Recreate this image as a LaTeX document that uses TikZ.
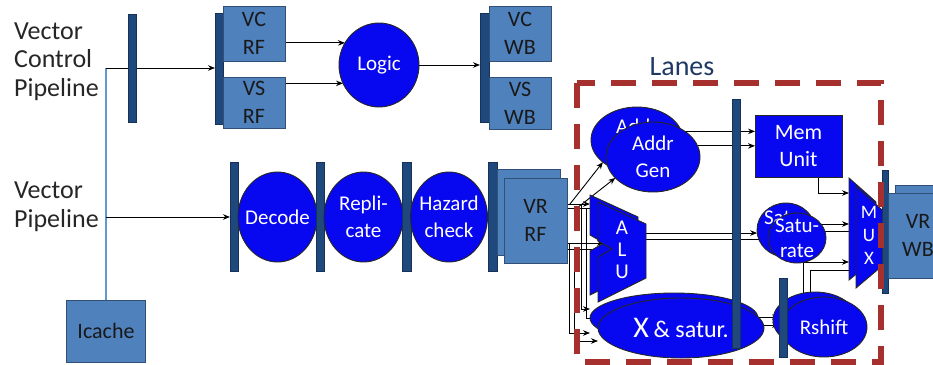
\documentclass[tikz,border=0pt]{standalone}
\usepackage{fontspec}
\setmainfont{Carlito}
\usetikzlibrary{shapes.geometric,arrows.meta}
\pgfdeclarelayer{bg}
\pgfsetlayers{bg,main}
\definecolor{barc}{RGB}{31,73,125}
\definecolor{barb}{RGB}{22,50,88}
\definecolor{lboxc}{RGB}{79,129,189}
\definecolor{lboxb}{RGB}{50,80,118}
\definecolor{bblue}{RGB}{8,8,240}
\definecolor{lanered}{RGB}{165,48,45}
\definecolor{lanetxt}{RGB}{31,56,100}
\definecolor{icline}{RGB}{100,150,210}
\begin{document}
\begin{tikzpicture}[x=1pt,y=-1pt,
 pbar/.style={draw=barb,fill=barc,line width=0.6pt,minimum width=8pt,inner sep=0pt,outer sep=0pt},
 lbox/.style={draw=lboxb,fill=lboxc,line width=1pt,inner sep=0pt,outer sep=0pt,align=center,text=black!90,font=\fontsize{22}{28}\selectfont},
 bell/.style={ellipse,draw=black!85,fill=bblue,line width=0.9pt,inner sep=-8pt,outer sep=0pt,align=center,text=white,font=\fontsize{21}{27}\selectfont},
 bpoly/.style={draw=black!85,fill=bblue,line width=0.9pt},
 arr/.style={draw=black,line width=0.9pt,-{Stealth[length=7pt,width=5.5pt]}},
 lbl/.style={align=left,text=black!85,font=\fontsize{26}{28.5}\selectfont,inner sep=0pt,anchor=west}
]
\useasboundingbox (0,0) rectangle (933,364);

% labels
\node[lbl] (vcp) at (14,61.5) {Vector\\Control\\Pipeline};
\node[lbl] (vp) at (14,207) {Vector\\Pipeline};

% control pipeline
\node[pbar,minimum height=108pt] (b1) at (132,68) {};
\node[pbar,minimum height=111pt] (vcrfbar) at (219,68.5) {};
\node[lbox,minimum width=62pt,minimum height=55pt] (vcrf) at (254,33.5) {VC\\RF};
\node[lbox,minimum width=62pt,minimum height=51pt] (vsrf) at (254,102.5) {VS\\RF};
\node[bell,minimum width=80pt,minimum height=84pt] (logic) at (379,65) {Logic};
\node[pbar,minimum width=9pt,minimum height=109pt] (vcwbbar) at (484.5,67.5) {};
\node[lbox,minimum width=62pt,minimum height=55pt] (vcwb) at (520,33.5) {VC\\WB};
\node[lbox,minimum width=62pt,minimum height=52pt] (vswb) at (520,103) {VS\\WB};

% icache
\node[lbox,minimum width=79pt,minimum height=62pt] (icache) at (106,331) {Icache};

% vector pipeline
\node[pbar,minimum height=109pt] (decbar) at (234,216.5) {};
\node[bell,minimum width=79pt,minimum height=90pt] (decode) at (277.5,217) {Decode};
\node[pbar,minimum height=109pt] (repbar) at (320,216.5) {};
\node[bell,minimum width=79pt,minimum height=90pt] (repl) at (363.5,217) {Repli-\\cate};
\node[pbar,minimum width=9pt,minimum height=109pt] (hazbar) at (406.5,216.5) {};
\node[bell,minimum width=77pt,minimum height=90pt] (haz) at (449,217) {Hazard\\check};
\node[pbar,minimum width=9pt,minimum height=109pt] (vrrfbar) at (492.5,216.5) {};
\node[lbox,minimum width=63pt,minimum height=86pt] (vrrfb) at (528.5,212) {};
\node[lbox,minimum width=63pt,minimum height=85pt] (vrrff) at (535.5,220.5) {VR\\RF};

% lanes
\node[text=lanetxt,font=\fontsize{28}{30}\selectfont] (lanes) at (682,67) {Lanes};
\node[bell,minimum width=92pt,minimum height=66pt] (addrb) at (637,140) {Addr\\Gen};
\node[bell,minimum width=94pt,minimum height=70pt] (addrf) at (653,157) {Addr\\Gen};

% ALU
\path[bpoly] (590,195) -- (638,217) -- (638,271) -- (590,295) -- (590,251) -- (604,243) -- (590,235) -- cycle;
\path[bpoly] (598,202) -- (646,224) -- (646,278) -- (598,302) -- (598,257) -- (612,249) -- (598,241) -- cycle;
\node[text=white,align=center,font=\fontsize{21}{22}\selectfont] (alu) at (622,250) {A\\L\\U};
\coordinate (aluBin) at (590,204);
\coordinate (aluFin) at (598,208);
\coordinate (aluBtip) at (604,243);
\coordinate (aluFtip) at (612,249);
\coordinate (aluFr) at (646,250);

% X & satur.
\node[bell,minimum width=168pt,minimum height=50pt] (xsb) at (674,318) {};
\node[bell,minimum width=166pt,minimum height=60pt] (xsf) at (681,328) {{\fontsize{30}{30}\selectfont X} {\fontsize{24}{28}\selectfont \& satur.}};

\node[pbar,minimum height=249pt] (lanebar) at (736,223.5) {};
\node[draw=black!85,fill=bblue,line width=0.9pt,inner sep=0pt,outer sep=0pt,minimum width=87pt,minimum height=62pt,align=center,text=white,font=\fontsize{22}{27}\selectfont] (mem) at (798.5,146) {Mem\\Unit};

% saturate
\node[bell,minimum width=58pt,minimum height=54pt,font=\fontsize{21}{25}\selectfont] (satb) at (786,230) {Satu-\\rate};
\node[bell,minimum width=58pt,minimum height=50pt,font=\fontsize{21}{25}\selectfont] (satf) at (797,238) {Satu-\\rate};

% rshift
\node[bell,minimum width=84pt,minimum height=56pt] (rsb) at (815,320) {};
\node[bell,minimum width=86pt,minimum height=60pt] (rsf) at (824,327) {Rshift};
\node[pbar,minimum height=79pt] (rsbar) at (783,317.5) {};

% MUX
\path[bpoly] (849,178) -- (876,202) -- (876,258) -- (849,280) -- cycle;
\path[bpoly] (856,186) -- (882,210) -- (882,266) -- (856,288) -- cycle;
\node[text=white,align=center,font=\fontsize{19}{23}\selectfont] (mux) at (869,235) {M\\U\\X};
\coordinate (muxb) at (849,230);
\coordinate (muxf) at (856,240);

% VR WB
\node[pbar,minimum width=6pt,minimum height=123pt] (vrwbbar) at (885,231.5) {};
\node[lbox,minimum width=60pt,minimum height=85pt] (vrwbb) at (925,227.5) {};
\node[lbox,minimum width=60pt,minimum height=85pt] (vrwbf) at (918,235.5) {VR\\WB};

% connectors
\coordinate (jc) at (106,68);
\coordinate (jv) at (106,217);
\coordinate (s1) at (570,204);
\coordinate (s2) at (577,208);
\coordinate (v1) at (581,204);
\coordinate (v2) at (586,208);
\coordinate (v3) at (569,243);
\coordinate (v4) at (574,249);
\coordinate (m1) at (849,193);
\begin{pgfonlayer}{bg}
\draw[icline,line width=1.3pt] (jc) -- (icache.north);
\draw[arr] (jc) -- (jc -| vcrfbar.west);
\draw[arr] (jv) -- (jv -| decbar.west);
\draw[arr] (logic.147 -| vcrf.east) -- (logic.147);
\draw[arr] (logic.207 -| vsrf.east) -- (logic.207);
\draw[arr] (logic.east) -- (logic.east -| vcwbbar.west);

\draw[arr] (vrrff.east |- aluBin) -- (aluBin);
\draw[arr] (vrrff.east |- aluFin) -- (aluFin);
\draw[arr] (vrrff.east |- aluBtip) -- (aluBtip);
\draw[arr] (vrrff.east |- aluFtip) -- (aluFtip);
\draw[arr] (s1) -- (addrb.213);
\draw[arr] (s2) -- (addrf.209);
\draw[arr] (v1) |- ([yshift=9pt]xsb.west);
\draw[arr] (v2) |- ([yshift=10pt]xsf.west);
\draw[arr] (v3) |- ([yshift=-15pt]xsb.west);
\draw[arr] (v4) |- ([yshift=-13pt]xsf.west);

\draw[arr] (addrb.11) -- (addrb.11 -| mem.west);
\draw[arr] (addrf.14) -- (addrf.14 -| mem.west);
\draw[arr] (satb.186 -| aluFr) -- (satb.186);
\draw[arr] (satf.182 -| aluFr) -- (satf.182);
\draw[arr] (satb.12) -- (satb.12 -| muxb);
\draw[arr] (satf.14) -- (satf.14 -| muxf);
\draw[arr] ([xshift=19.5pt]mem.south) |- (m1);
\draw[arr] (rsb.114) |- (muxb |- 0,262);
\draw[arr] (rsf.116) |- (muxf |- 0,270);
\draw[arr] (xsf.8) -- (xsf.8 -| rsbar.west);
\draw[arr] (xsf.2) -- (xsf.2 -| rsbar.west);
\end{pgfonlayer}

% lanes boundary
\draw[lanered,line width=6pt,dash pattern=on 25pt off 16pt] (577,83) rectangle (881,362);
\end{tikzpicture}
\end{document}
